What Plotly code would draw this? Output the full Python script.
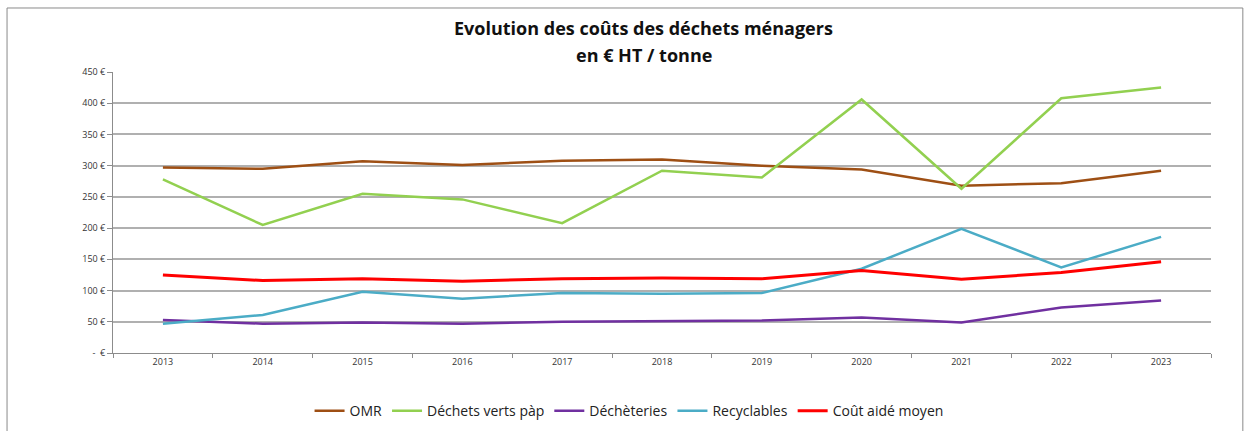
import plotly.graph_objects as go

years = ["2013", "2014", "2015", "2016", "2017", "2018", "2019", "2020", "2021", "2022", "2023"]

omr = [297, 295, 307, 301, 308, 310, 300, 294, 268, 272, 292]
dechets_verts = [278, 205, 255, 246, 208, 292, 281, 406, 263, 408, 425]
decheteries = [53, 47, 49, 47, 50, 51, 52, 57, 49, 73, 84]
recyclables = [47, 61, 98, 87, 96, 95, 96, 135, 199, 137, 186]
cout_aide = [125, 116, 119, 115, 119, 120, 119, 132, 118, 129, 146]

y_ticks = [0, 50, 100, 150, 200, 250, 300, 350, 400, 450]
y_tick_labels = ["-  €", "50 €", "100 €", "150 €", "200 €", "250 €", "300 €", "350 €", "400 €", "450 €"]

title_lines = ["Evolution des coûts des déchets ménagers", "en € HT / tonne"]

series = [
    ("OMR", omr, "#9E4F14", 2.5),
    ("Déchets verts pàp", dechets_verts, "#92D050", 2.5),
    ("Déchèteries", decheteries, "#7030A0", 2.5),
    ("Recyclables", recyclables, "#4BACC6", 2.5),
    ("Coût aidé moyen", cout_aide, "#FF0000", 3),
]

fig = go.Figure()
for name, values, color, width in series:
    fig.add_trace(go.Scatter(
        x=years, y=values, name=name, mode="lines",
        line=dict(color=color, width=width),
    ))

font_family = "Open Sans, Liberation Sans, sans-serif"

# Two-line bold title drawn as annotations above the plot area
title_annotations = [
    dict(text=f"<b>{line}</b>", xref="paper", yref="paper", x=0.4836, y=y,
         xanchor="center", yanchor="middle", showarrow=False,
         font=dict(size=18, color="#111", family=font_family))
    for line, y in zip(title_lines, [1.1566, 1.0605])
]

fig.update_layout(
    width=1245, height=431,
    margin=dict(l=113, r=34, t=72, b=78, autoexpand=False),
    paper_bgcolor="white", plot_bgcolor="white",
    font=dict(family=font_family, color="#222"),
    annotations=title_annotations,
    showlegend=True,
    legend=dict(
        orientation="h", x=0.47, xanchor="center", y=-0.15, yanchor="top",
        font=dict(size=14, color="#222"), itemwidth=30, traceorder="normal",
    ),
    xaxis=dict(
        type="category", range=[-0.5, 10.5],
        showgrid=False, showline=True, linecolor="#8c8c8c", linewidth=1,
        ticks="outside", tickson="boundaries", ticklen=4, tickcolor="#8c8c8c",
        tickfont=dict(size=9, color="#333"),
    ),
    yaxis=dict(
        range=[0, 450], tickvals=y_ticks, ticktext=y_tick_labels,
        showgrid=True, gridcolor="#b0b0b0", gridwidth=1.5,
        showline=True, linecolor="#8c8c8c", linewidth=1,
        ticks="outside", ticklen=5, tickcolor="#8c8c8c",
        tickfont=dict(size=9, color="#333"), zeroline=False,
    ),
    shapes=[dict(
        type="rect", xref="paper", yref="paper",
        x0=-0.0965, x1=1.029, y0=-0.29, y1=1.2278,
        line=dict(color="#8a8a8a", width=1), layer="below",
    )],
)

fig.write_html("out.html")
